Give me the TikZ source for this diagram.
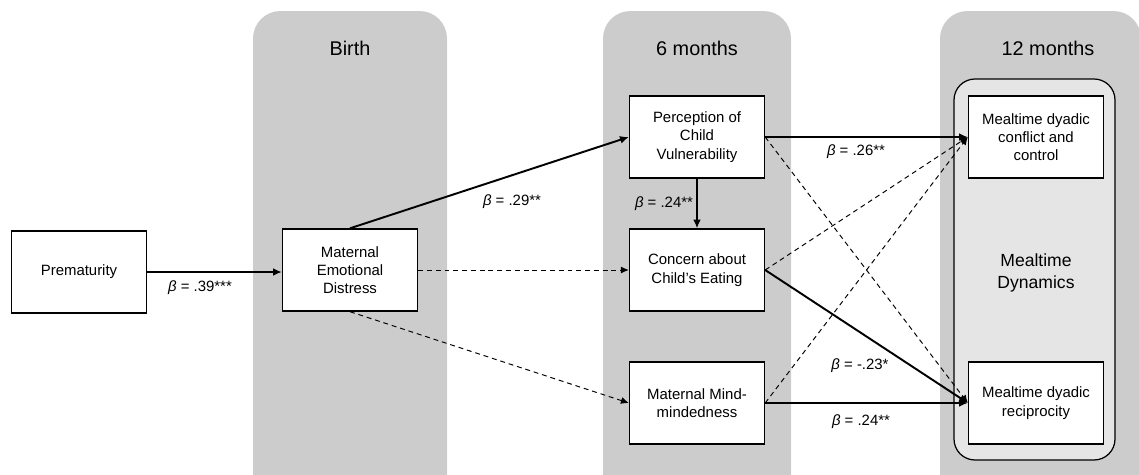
\documentclass[tikz,border=0pt]{standalone}
\usepackage{fontspec}
\setmainfont{Liberation Sans}
\usetikzlibrary{positioning,arrows.meta}

\begin{document}
\begin{tikzpicture}[x=0.02cm, y=-0.02cm,
          period/.style={fill=black!20, rounded corners=0.55cm},
          var/.style={draw, line width=0.8pt, fill=white, minimum width=2.7cm, minimum height=1.64cm,
            align=center, inner sep=0pt, font=\fontsize{8.5}{10.4}\selectfont},
          head/.style={font=\fontsize{11.3}{13}\selectfont},
          lab/.style={font=\fontsize{8.5}{10}\selectfont},
          path/.style={-{Latex[length=5pt,width=4.5pt]}, line width=1.1pt},
          dpath/.style={-{Latex[length=4.5pt,width=4pt]}, line width=0.55pt, dash pattern=on 2.8pt off 2.2pt},
        ]
        \useasboundingbox (0,0) rectangle (1139,474);
        % time columns
        \begin{scope}
          \clip (0,0) rectangle (1139,474);
          \fill[period] (253,11) rectangle (447,530);
          \fill[period] (603,11) rectangle (791,530);
          \fill[period] (940,11) rectangle (1141,530);
        \end{scope}
        \draw[line width=0.7pt, fill=black!10, rounded corners=0.42cm] (954,79) rectangle (1115,460);
        \node[head] (birth) at (350,48) {Birth};
        \node[head] (six) at (697,48) {6 months};
        \node[head] (twelve) at (1048,48) {12 months};
        \node[align=center, font=\fontsize{10}{12.5}\selectfont] (dyn) at (1036,273) {Mealtime\\Dynamics};
        % variables
        \node[var] (prem) at (79,272) {Prematurity};
        \node[var] (med) at (350,270) {Maternal\\Emotional\\Distress};
        \node[var] (pcv) at (697,137) {Perception of\\Child\\Vulnerability};
        \node[var] (cce) at (697,270) {Concern about\\Child’s Eating};
        \node[var] (mmm) at (697,403) {Maternal Mind-\\mindedness};
        \node[var] (conf) at (1036,137) {Mealtime dyadic\\conflict and\\control};
        \node[var] (reci) at (1036,403) {Mealtime dyadic\\reciprocity};
        % paths
        \draw[path] (prem.east) -- (prem.east -| med.west);
        \draw[path] (med.north) -- (pcv.west);
        \draw[dpath] (med) -- (cce);
        \draw[dpath] (med.south) -- (mmm.west);
        \draw[path] (pcv) -- (cce);
        \draw[path] (pcv.east) -- (conf.west);
        \draw[dpath] (pcv.east) -- (reci.west);
        \draw[dpath] (cce.east) -- (conf.west);
        \draw[path] (cce.east) -- (reci.west);
        \draw[dpath] (mmm.east) -- (conf.west);
        \draw[path] (mmm.east) -- (reci.west);
        % coefficients
        \node[lab] (b39) at (200,288) {\textit{β} = .39***};
        \node[lab] (b29) at (512,202) {\textit{β} = .29**};
        \node[lab] (b24a) at (664,204) {\textit{β} = .24**};
        \node[lab] (b26) at (856,152) {\textit{β} = .26**};
        \node[lab] (b23) at (860,366) {\textit{β} = -.23*};
        \node[lab] (b24b) at (861,422) {\textit{β} = .24**};
      \end{tikzpicture}
\end{document}
